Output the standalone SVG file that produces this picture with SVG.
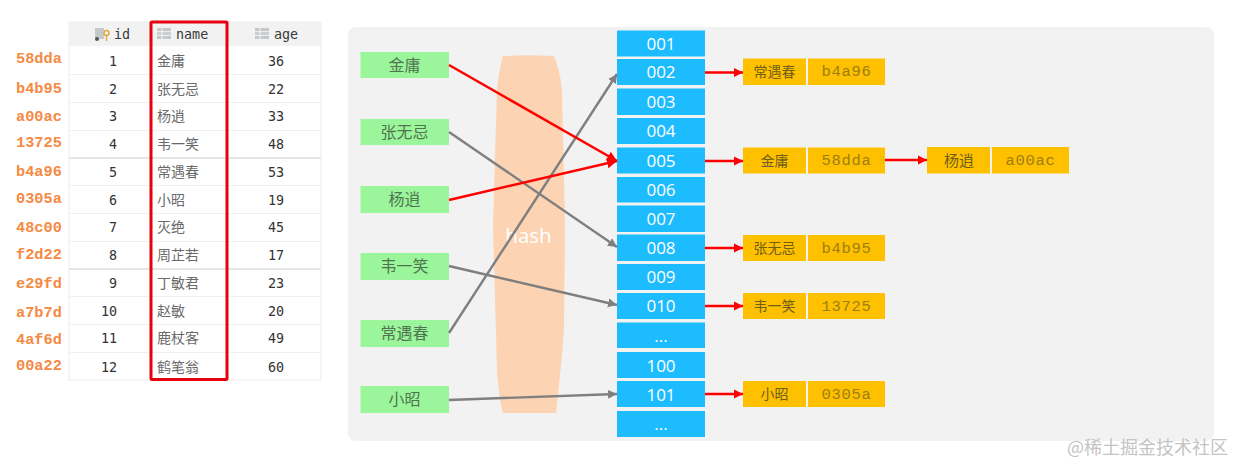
<svg xmlns="http://www.w3.org/2000/svg" width="1234" height="464" viewBox="0 0 1234 464">
<style>
text{font-family:"Noto Sans CJK SC","Noto Sans",sans-serif}
.addr{font-family:"Liberation Mono",monospace;font-size:15.3px;font-weight:700;fill:#f58a45}
.hd{font-family:"DejaVu Sans Mono",monospace;font-size:13.400px;fill:#3a3a3a}
.num{font-family:"DejaVu Sans Mono",monospace;font-size:13.400px;fill:#333;text-anchor:end}
.nm{font-size:14px;fill:#6a6a6a}
.sep{stroke:#f0f0f0;stroke-width:1}
.sep2{stroke:#e6e6e6;stroke-width:2}
.ico{fill:#c6c9cc}
.g rect{fill:#9bf59b}
.g text{font-size:16px;fill:#4f7550;text-anchor:middle}
.b rect{fill:#1cbcff}
.b text{font-family:"Open Sans",sans-serif;font-size:17px;fill:#fff;text-anchor:middle}
.o rect{fill:#ffc000}
.o .n{font-size:14px;fill:#6f5f16;text-anchor:middle}
.o .k{font-family:"Liberation Mono",monospace;font-size:15.500px;letter-spacing:.7px;fill:#9a7f10;text-anchor:middle}
.cr{stroke:#f00;stroke-width:2.500;fill:none;marker-end:url(#ar)}
.cs{stroke:#f00;stroke-width:2.400;fill:none;marker-end:url(#as)}
.cg{stroke:#7f7f7f;stroke-width:2.400;fill:none;marker-end:url(#ag)}
</style>
<defs>
<marker id="ar" markerUnits="userSpaceOnUse" markerWidth="11" markerHeight="12" refX="10" refY="6" orient="auto"><path d="M0 1L10 6L0 11Z" fill="#f00"/></marker>
<marker id="as" markerUnits="userSpaceOnUse" markerWidth="9" markerHeight="10" refX="9" refY="5" orient="auto"><path d="M0 .5L9 5L0 9.500Z" fill="#f00"/></marker>
<marker id="ag" markerUnits="userSpaceOnUse" markerWidth="10" markerHeight="10" refX="9" refY="5" orient="auto"><path d="M0 .5L9 5L0 9.500Z" fill="#7f7f7f"/></marker>
<g id="gridIcon"><rect class="ico" width="14" height="11"/><path d="M5 0V11M0 3.700H14M0 7.300H14" stroke="#fff" stroke-width=".8"/></g>
</defs>

<g id="table">
<rect x="69" y="22" width="252" height="358" fill="#fff" stroke="#ebebeb"/>
<rect x="69" y="22" width="252" height="24" fill="#f2f2f3"/>
<path class="sep" d="M69 74.500H321M69 102.500H321M69 130.500H321M69 185.500H321M69 213.500H321M69 241.500H321M69 296.500H321M69 324.500H321M69 352.500H321"/>
<path class="sep2" d="M69 158H321M69 269H321"/>
<rect class="ico" x="95" y="28" width="9" height="11"/><circle cx="97" cy="39" r="2" fill="#555"/>
<circle cx="106.500" cy="33" r="2.500" fill="none" stroke="#e2a93b" stroke-width="1.500"/><path d="M106.500 35.500V41" stroke="#e2a93b" stroke-width="1.500"/>
<use href="#gridIcon" x="157" y="28"/><use href="#gridIcon" x="255" y="28"/>
<text class="hd" x="114" y="39">id</text><text class="hd" x="176" y="39">name</text><text class="hd" x="274" y="39">age</text>
<text class="addr" x="16" y="63">58dda</text><text class="addr" x="16" y="93">b4b95</text><text class="addr" x="16" y="121">a00ac</text><text class="addr" x="16" y="147">13725</text><text class="addr" x="16" y="176">b4a96</text><text class="addr" x="16" y="203">0305a</text><text class="addr" x="16" y="232">48c00</text><text class="addr" x="16" y="259">f2d22</text><text class="addr" x="16" y="288">e29fd</text><text class="addr" x="16" y="317">a7b7d</text><text class="addr" x="16" y="344">4af6d</text><text class="addr" x="16" y="370">00a22</text>
<text class="num" x="117" y="66">1</text><text class="nm" x="157" y="66">金庸</text><text class="num" x="284" y="66">36</text>
<text class="num" x="117" y="94">2</text><text class="nm" x="157" y="94">张无忌</text><text class="num" x="284" y="94">22</text>
<text class="num" x="117" y="121">3</text><text class="nm" x="157" y="121">杨逍</text><text class="num" x="284" y="121">33</text>
<text class="num" x="117" y="149">4</text><text class="nm" x="157" y="149">韦一笑</text><text class="num" x="284" y="149">48</text>
<text class="num" x="117" y="177">5</text><text class="nm" x="157" y="177">常遇春</text><text class="num" x="284" y="177">53</text>
<text class="num" x="117" y="205">6</text><text class="nm" x="157" y="205">小昭</text><text class="num" x="284" y="205">19</text>
<text class="num" x="117" y="232">7</text><text class="nm" x="157" y="232">灭绝</text><text class="num" x="284" y="232">45</text>
<text class="num" x="117" y="260">8</text><text class="nm" x="157" y="260">周芷若</text><text class="num" x="284" y="260">17</text>
<text class="num" x="117" y="288">9</text><text class="nm" x="157" y="288">丁敏君</text><text class="num" x="284" y="288">23</text>
<text class="num" x="117" y="316">10</text><text class="nm" x="157" y="316">赵敏</text><text class="num" x="284" y="316">20</text>
<text class="num" x="117" y="343">11</text><text class="nm" x="157" y="343">鹿杖客</text><text class="num" x="284" y="343">49</text>
<text class="num" x="117" y="372">12</text><text class="nm" x="157" y="372">鹤笔翁</text><text class="num" x="284" y="372">60</text>
<rect x="151" y="22" width="76" height="357.500" rx="1" fill="none" stroke="#e8000f" stroke-width="3"/>
</g>

<rect id="panel" x="348" y="27" width="866" height="414" rx="8" fill="#f2f2f2"/>

<g id="hash">
<path d="M503 56Q528 54.500 554 56Q560 70 562 90L565 225L564 330Q561 370 556 413H503Q499 400 497 370L493 225L497 90Q499 70 503 56Z" fill="#fcd4b3"/>
<text x="528.500" y="243" font-size="20.500" fill="#fff" text-anchor="middle" style="font-family:'Open Sans',sans-serif">hash</text>
</g>

<g id="keys" class="g">
<g id="key-jinyong"><rect x="360.500" y="52" width="88.500" height="26"/><text x="404.500" y="71">金庸</text></g>
<g id="key-zhangwuji"><rect x="360.500" y="119" width="88.500" height="26"/><text x="404.500" y="138">张无忌</text></g>
<g id="key-yangxiao"><rect x="360.500" y="186" width="88.500" height="27"/><text x="404.500" y="205">杨逍</text></g>
<g id="key-weiyixiao"><rect x="360.500" y="253" width="88.500" height="27"/><text x="404.500" y="272">韦一笑</text></g>
<g id="key-changyuchun"><rect x="360.500" y="320" width="88.500" height="27"/><text x="404.500" y="339">常遇春</text></g>
<g id="key-xiaozhao"><rect x="360.500" y="386" width="88.500" height="27"/><text x="404.500" y="405">小昭</text></g>
</g>

<g id="buckets" class="b">
<g id="b001"><rect x="617" y="30.500" width="88" height="26"/><text x="661" y="50">001</text></g>
<g id="b002"><rect x="617" y="59" width="88" height="26"/><text x="661" y="78">002</text></g>
<g id="b003"><rect x="617" y="88.500" width="88" height="26.500"/><text x="661" y="108">003</text></g>
<g id="b004"><rect x="617" y="118" width="88" height="26"/><text x="661" y="137">004</text></g>
<g id="b005"><rect x="617" y="147.500" width="88" height="26"/><text x="661" y="167">005</text></g>
<g id="b006"><rect x="617" y="177" width="88" height="25.500"/><text x="661" y="196">006</text></g>
<g id="b007"><rect x="617" y="205.500" width="88" height="26.500"/><text x="661" y="225">007</text></g>
<g id="b008"><rect x="617" y="234.500" width="88" height="26.500"/><text x="661" y="254">008</text></g>
<g id="b009"><rect x="617" y="264" width="88" height="26"/><text x="661" y="283">009</text></g>
<g id="b010"><rect x="617" y="293" width="88" height="26"/><text x="661" y="312">010</text></g>
<g id="bgap1"><rect x="617" y="322.500" width="88" height="25.500"/><text x="661" y="342">...</text></g>
<g id="b100"><rect x="617" y="352" width="88" height="26"/><text x="661" y="372">100</text></g>
<g id="b101"><rect x="617" y="381" width="88" height="26"/><text x="661" y="401">101</text></g>
<g id="bgap2"><rect x="617" y="411" width="88" height="26"/><text x="661" y="430">...</text></g>
</g>

<g id="entries" class="o">
<g id="e-chang"><rect x="743" y="58.500" width="63" height="26.500"/><rect x="808" y="58.500" width="77" height="26.500"/><text class="n" x="774.500" y="77">常遇春</text><text class="k" x="846.500" y="76">b4a96</text></g>
<g id="e-jin"><rect x="743" y="147.500" width="63" height="26"/><rect x="808" y="147.500" width="77" height="26"/><text class="n" x="774.500" y="166">金庸</text><text class="k" x="846.500" y="165">58dda</text></g>
<g id="e-yang"><rect x="927" y="147" width="63" height="26.500"/><rect x="992" y="147" width="77" height="26.500"/><text class="n" x="959" y="165.500" style="font-size:15px">杨逍</text><text class="k" x="1030.500" y="165">a00ac</text></g>
<g id="e-zhang"><rect x="743" y="235" width="63" height="26"/><rect x="808" y="235" width="77" height="26"/><text class="n" x="774.500" y="253">张无忌</text><text class="k" x="846.500" y="253">b4b95</text></g>
<g id="e-wei"><rect x="743" y="293" width="63" height="26"/><rect x="808" y="293" width="77" height="26"/><text class="n" x="774.500" y="311">韦一笑</text><text class="k" x="846.500" y="311">13725</text></g>
<g id="e-xiao"><rect x="743" y="381" width="63" height="26"/><rect x="808" y="381" width="77" height="26"/><text class="n" x="774.500" y="399">小昭</text><text class="k" x="846.500" y="399">0305a</text></g>
</g>

<g id="connectors">
<path class="cg" d="M449 132L617 247"/>
<path class="cg" d="M449 266L617 305"/>
<path class="cg" d="M449 333L617 74"/>
<path class="cg" d="M449 400L617 394"/>
<path class="cr" d="M449 65L617 161"/>
<path class="cr" d="M449 200L617 161"/>
<path class="cs" d="M705 72.500H743"/>
<path class="cs" d="M705 161H743"/>
<path class="cs" d="M885 160H927"/>
<path class="cs" d="M705 248H743"/>
<path class="cs" d="M705 306H743"/>
<path class="cs" d="M705 394H743"/>
</g>

<text id="watermark" x="1228" y="453.500" font-size="18" fill="#c4c4c4" text-anchor="end">@稀土掘金技术社区</text>
</svg>
